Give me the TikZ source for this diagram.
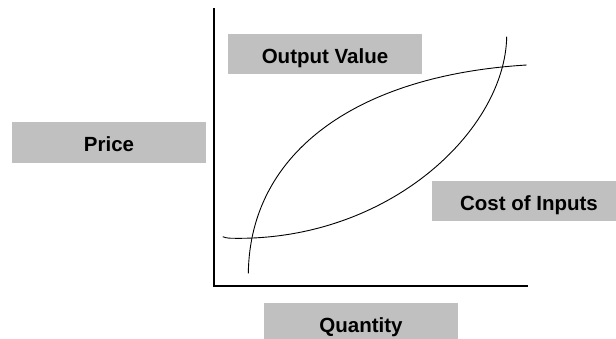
\documentclass[tikz,border=0pt]{standalone}
\usepackage{fontspec}
\setmainfont{Liberation Sans}
\definecolor{boxgray}{HTML}{C0C0C0}
\begin{document}
\begin{tikzpicture}[x=1pt,y=-1pt,
  lbl/.style={fill=boxgray, minimum width=194pt, minimum height=40pt, inner sep=0pt,
    font=\fontsize{20.5}{24}\selectfont\bfseries, text height=18.7pt, text depth=0pt},
  curve/.style={line width=0.9pt, black},
  axisline/.style={line width=1.2pt, black}]
\clip (0,0) rectangle (616,339);
% labels
\node[lbl] (out) at (325,54) {Output Value};
\node[lbl, minimum height=40.7pt] (price) at (109,142.3) {Price};
\node[lbl] (cost) at (529,201.4) {Cost of Inputs};
\node[lbl] (qty) at (361,323.3) {Quantity};
% axes
\coordinate (O) at (214,286);
\coordinate (ytop) at (214,8);
\coordinate (xend) at (528,286);
\draw[axisline] (ytop) -- (O) -- (xend);
% output value curve
\coordinate (ov1) at (248.3,273.3);
\coordinate (ov2) at (526.7,65);
\draw[curve] (ov1) .. controls (250,150) and (360,75) .. (ov2);
% cost of inputs curve
\coordinate (ci1) at (222.7,236.7);
\coordinate (ci2) at (235,238.3);
\coordinate (ci3) at (506.7,36.7);
\draw[curve] (ci1) .. controls (227,238.3) and (230,238.3) .. (ci2)
  .. controls (390,240) and (505,130) .. (ci3);
\end{tikzpicture}
\end{document}
